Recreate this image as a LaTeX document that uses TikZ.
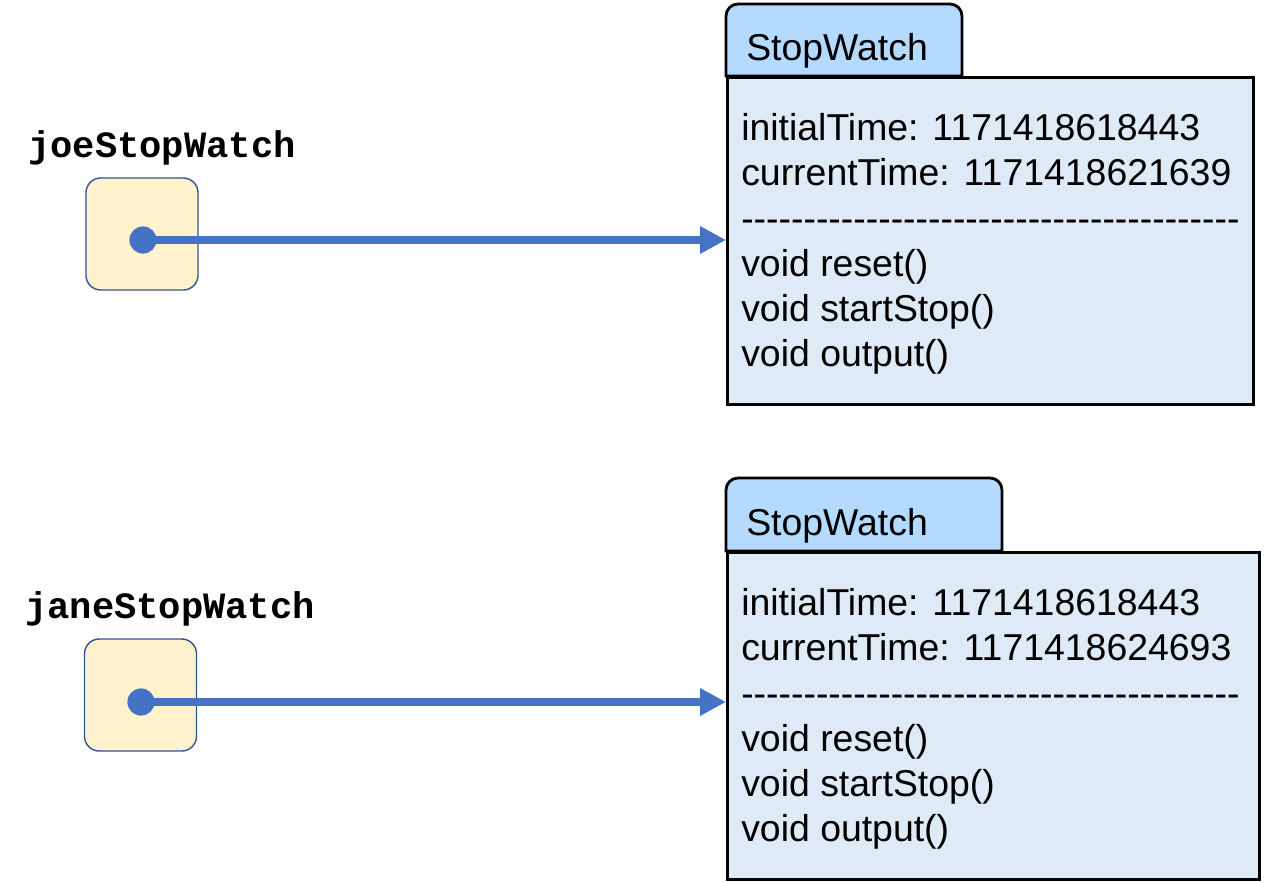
\documentclass[tikz,border=0pt]{standalone}
\usepackage{fontspec}
\newfontfamily\umlfont{Liberation Sans}[Ligatures=TeXOff]
\newfontfamily\varfont{Liberation Mono}
\usetikzlibrary{arrows.meta}
\definecolor{tabblue}{RGB}{180,218,255}
\definecolor{bodyblue}{RGB}{222,234,246}
\definecolor{refblue}{RGB}{68,114,196}
\definecolor{refedge}{RGB}{47,85,151}
\definecolor{refyellow}{RGB}{255,242,204}
\begin{document}
\begin{tikzpicture}[x=0.025cm,y=0.025cm,
  varname/.style={anchor=base,inner sep=0,font=\varfont\bfseries\fontsize{26.4}{32}\selectfont},
  refbox/.style={draw=refedge,line width=1pt,fill=refyellow,rounded corners=0.37cm,minimum size=2.8cm},
  refdot/.style={circle,fill=refblue,inner sep=0,minimum size=0.68cm},
  refarrow/.style={draw=refblue,line width=5pt,-{Triangle[length=0.65cm,width=0.65cm]}},
  tabshape/.style={draw=black,line width=2pt,fill=tabblue},
  classbody/.style={draw=black,line width=2pt,fill=bodyblue,anchor=north west},
  classtext/.style={anchor=base west,inner sep=0,align=left,font=\umlfont\fontsize{26.6}{32.1}\selectfont}]
 \useasboundingbox (0,0) rectangle (1268,-881);
 % joe
 \node[varname] (joelabel) at (162,-157) {joeStopWatch};
 \node[refbox] (joebox) at (142,-234) {};
 \node[refdot] (joedot) at (143,-240) {};
 \draw[tabshape] (726,-76) {[rounded corners=0.3cm] -- (726,-4) -- (962,-4)} -- (962,-76) -- cycle;
 \node[classbody,minimum width=13.15cm,minimum height=8.175cm] (joeobj) at (726,-76) {};
 \node[classtext] (joetitle) at (746,-60) {StopWatch};
 % base of a multi-line node = baseline of its last line
 \node[classtext] (joefields) at (741,-366.5) {initialTime: 1171418618443\\
  currentTime: 1171418621639\\
  ----------------------------------------\\
  void reset()\\
  void startStop()\\
  void output()};
 \draw[refarrow] (joedot.center) -- (joedot -| joeobj.west);
 % jane
 \node[varname] (janelabel) at (170,-618) {janeStopWatch};
 \node[refbox] (janebox) at (140.5,-695) {};
 \node[refdot] (janedot) at (141,-702) {};
 \draw[tabshape] (726,-551) {[rounded corners=0.3cm] -- (726,-478) -- (1002,-478)} -- (1002,-551) -- cycle;
 \node[classbody,minimum width=13.3cm,minimum height=8.175cm] (janeobj) at (726,-551) {};
 \node[classtext] (janetitle) at (746,-535) {StopWatch};
 \node[classtext] (janefields) at (741,-841.5) {initialTime: 1171418618443\\
  currentTime: 1171418624693\\
  ----------------------------------------\\
  void reset()\\
  void startStop()\\
  void output()};
 \draw[refarrow] (janedot.center) -- (janedot -| janeobj.west);
\end{tikzpicture}
\end{document}
